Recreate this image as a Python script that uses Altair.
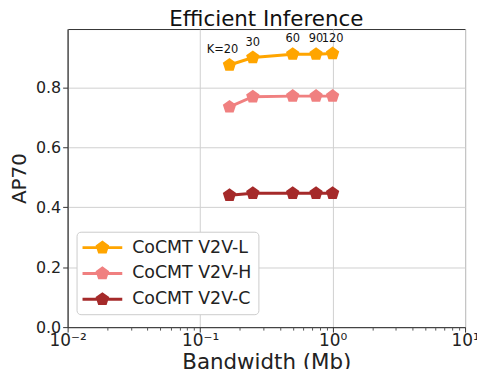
import altair as alt
import pandas as pd

bandwidth = [1/6, 0.25, 0.5, 0.75, 1.0]
k_labels = ["K=20", "30", "60", "90", "120"]
series_names = ["CoCMT V2V-L", "CoCMT V2V-H", "CoCMT V2V-C"]
ap_L = [0.875, 0.900, 0.911, 0.911, 0.913]
ap_H = [0.735, 0.769, 0.771, 0.771, 0.771]
ap_C = [0.440, 0.447, 0.447, 0.447, 0.447]
colors = ["#FFA500", "#F08080", "#A52A2A"]

rows = []
for name, vals in zip(series_names, [ap_L, ap_H, ap_C]):
    for b, v in zip(bandwidth, vals):
        rows.append({"series": name, "bw": b, "ap": v})
df = pd.DataFrame(rows)
lab = pd.DataFrame({"bw": bandwidth, "ap": ap_L, "lab": k_labels})

minor = []
for d in [0.01, 0.1, 1.0]:
    for m in range(2, 10):
        minor.append(d * m)
minor_df = pd.DataFrame({"bw": minor})

FONT = "DejaVu Sans"
pent = "M0,-1L0.951,-0.309L0.588,0.809L-0.588,0.809L-0.951,-0.309Z"
# legend glyph: line segment with a pentagon in the middle (units of 10 px)
legend_sym = ("M-1,-0.15L3,-0.15L3,0.15L-1,0.15Z "
              "M1,-0.72L1.685,-0.222L1.423,0.582L0.577,0.582L0.315,-0.222Z")

xscale = alt.Scale(type="log", domain=[0.01, 10], nice=False)
yscale = alt.Scale(domain=[0, 0.995], nice=False, zero=False)

color = alt.Color(
    "series:N",
    scale=alt.Scale(domain=series_names, range=colors),
    sort=series_names,
    legend=alt.Legend(
        title=None, orient="none", legendX=9, legendY=204,
        symbolType=legend_sym, symbolSize=400, symbolStrokeWidth=0,
        symbolOpacity=1, labelFontSize=17.5, labelFont=FONT, labelColor="#222",
        rowPadding=7, padding=6, strokeColor="#cccccc", fillColor="white",
        cornerRadius=4, labelOffset=30, symbolLimit=10,
    ),
)

xenc = alt.X(
    "bw:Q", scale=xscale,
    axis=alt.Axis(
        values=[0.01, 0.1, 1, 10],
        labelExpr="datum.value < 0.05 ? '10⁻²' : datum.value < 0.5 ? '10⁻¹' : datum.value < 5 ? '10⁰' : '10¹'",
        title="Bandwidth (Mb)", titleFontSize=21.5, titleFont=FONT, titleFontWeight="normal",
        labelFontSize=17, labelFont=FONT, labelColor="#222", titleColor="#222",
        tickSize=5, tickColor="#333", domainColor="#333", grid=True,
        gridColor="#d0d0d0", labelPadding=1, titlePadding=3, labelFlush=False,
    ),
)
yenc = alt.Y(
    "ap:Q", scale=yscale,
    axis=alt.Axis(
        values=[0, 0.2, 0.4, 0.6, 0.8], format=".1f",
        title="AP70", titleFontSize=20, titleFont=FONT, titleFontWeight="normal",
        labelFontSize=16, labelFont=FONT, labelColor="#222", titleColor="#222",
        tickSize=5, tickColor="#333", domainColor="#333", grid=True,
        gridColor="#d0d0d0", labelPadding=2, titlePadding=6,
    ),
)
xplain = alt.X("bw:Q", scale=xscale, axis=None)
yplain = alt.Y("ap:Q", scale=yscale)

lines = alt.Chart(df).mark_line(strokeWidth=3).encode(x=xenc, y=yenc, color=color)
points = alt.Chart(df).mark_point(shape=pent, size=200, filled=True, opacity=1).encode(
    x=xplain, y=yplain,
    color=alt.Color("series:N", scale=alt.Scale(domain=series_names, range=colors), legend=None),
)
texts_first = alt.Chart(lab.iloc[:1]).mark_text(
    fontSize=11.5, font=FONT, color="#111", baseline="alphabetic", dy=-12, dx=-7
).encode(x=xplain, y=yplain, text="lab:N")
texts_rest = alt.Chart(lab.iloc[1:]).mark_text(
    fontSize=11.5, font=FONT, color="#111", baseline="alphabetic", dy=-12
).encode(x=xplain, y=yplain, text="lab:N")
minor_ticks = alt.Chart(minor_df).mark_tick(opacity=0).encode(
    x=alt.X("bw:Q", scale=xscale,
            axis=alt.Axis(values=minor, labels=False, title=None, tickSize=3,
                          tickColor="#555", domain=False, grid=False, orient="bottom")),
    y=alt.value(300),
)

chart = alt.layer(lines, points, texts_first, texts_rest, minor_ticks).resolve_axis(x="independent").properties(
    width=400, height=300,
    title=alt.TitleParams("Efficient Inference", fontSize=21.5, font=FONT,
                          fontWeight="normal", color="#111", offset=0, dy=1.5),
    autosize=alt.AutoSizeParams(type="none"),
    padding={"left": 60, "top": 20, "right": 12, "bottom": 41},
).configure_view(stroke="#333", strokeWidth=1)

chart.save("out.html", embed_options={"renderer": "svg", "actions": False})
